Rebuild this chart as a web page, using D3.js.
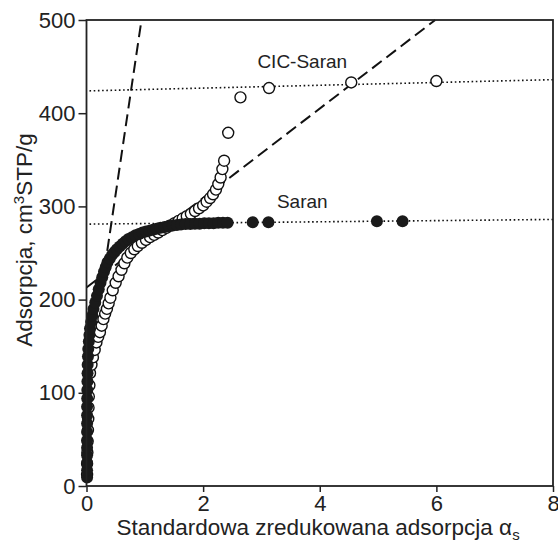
<!DOCTYPE html>
<html>

<head>
  <meta charset="utf8">
  <script src="https://d3js.org/d3.v7.min.js"></script>
  <style>
    body {
      margin: 0;
      background: #fff;
    }

    text {
      font-family: "Liberation Sans", Arial, sans-serif;
      fill: #222;
    }

    .tick text {
      font-size: 22px;
    }

    .title {
      font-size: 22.5px;
    }

    .label {
      font-size: 19px;
      text-anchor: middle;
    }
  </style>
</head>

<body>
  <svg id="chart" width="558" height="542"></svg>
  <script>
    // Saran (filled markers)
    var saranX = [0.01, 0.01, 0.01, 0.01, 0.01, 0.01, 0.01, 0.01, 0.01, 0.01,
      0.012, 0.014, 0.016, 0.018, 0.02, 0.025, 0.03, 0.04, 0.05, 0.06,
      0.08, 0.1, 0.12, 0.15, 0.18, 0.21, 0.24, 0.27, 0.3, 0.33,
      0.36, 0.4, 0.44, 0.48, 0.52, 0.57, 0.62, 0.67, 0.72, 0.78,
      0.84, 0.9, 0.96, 1.02, 1.08, 1.14, 1.2, 1.27, 1.34, 1.41,
      1.48, 1.55, 1.62, 1.7, 1.78, 1.86, 1.94, 2.02, 2.1, 2.18,
      2.26, 2.34, 2.42, 2.85, 3.12, 4.98, 5.42];
    var saranY = [9, 17, 25, 33, 41, 49, 58, 67, 76, 85,
      94, 103, 112, 121, 130, 139, 147, 155, 162, 169,
      176, 183, 190, 197, 204, 211, 218, 224, 230, 235,
      240, 244, 248, 251, 254, 257, 260, 262.5, 265, 267,
      269, 270.5, 272, 273, 274, 275, 276, 277, 278, 279,
      279.5, 280, 280.5, 281, 281, 281.5, 281.5, 282, 282, 282,
      282.5, 282.5, 282.5, 283, 283, 284, 284];

    // CIC-Saran (open markers)
    var cicX = [0.01, 0.01, 0.015, 0.02, 0.025, 0.03, 0.035, 0.04, 0.05, 0.06,
      0.085, 0.11, 0.14, 0.17, 0.2, 0.23, 0.26, 0.29, 0.32, 0.35,
      0.38, 0.41, 0.45, 0.5, 0.55, 0.6, 0.65, 0.7, 0.76, 0.82,
      0.88, 0.95, 1.02, 1.09, 1.16, 1.23, 1.3, 1.37, 1.44, 1.51,
      1.58, 1.65, 1.72, 1.79, 1.86, 1.93,
      2.0, 2.06, 2.12, 2.17, 2.22, 2.26, 2.3, 2.33, 2.36, 2.43, 2.64, 3.13, 4.54, 6.0];
    var cicY = [12, 24, 36, 48, 60, 72, 84, 96, 108, 121,
      130, 138, 146, 154, 160, 165, 172, 179, 185, 190,
      196, 202, 210, 218, 225, 232, 239, 245, 250, 254,
      257.5, 261, 264, 267, 269.5, 272, 274.5, 277, 279.5, 282,
      284.5, 287, 289.5, 292, 295, 298,
      301, 305, 309, 313, 318, 324, 331, 340, 349, 379, 417, 427, 433, 434.5];

    // fitted lines [x0, y0, x1, y1]
    var dottedLines = [[0, 424, 8, 436], [0, 281, 8, 286]];
    var dashedLines = [[0.22, 195, 0.943, 500], [0, 213, 5.98, 500]];

    var xTicks = [0, 2, 4, 6, 8];
    var yTicks = [0, 100, 200, 300, 400, 500];

    var chart = d3.select('#chart');
    var mLeft = 86.5, mRight = 553, mTop = 20, mBottom = 486;

    var x = d3.scaleLinear().domain([0, 8]).range([mLeft, mRight]);
    var y = d3.scaleLinear().domain([0, 500]).range([mBottom, mTop]);

    var saran = saranX.map((d, i) => [d, saranY[i]]);
    var cic = cicX.map((d, i) => [d, cicY[i]]);

    chart.append('g')
      .attr('transform', 'translate(0,' + mBottom + ')')
      .call(d3.axisBottom(x).tickValues(xTicks).tickSize(6).tickPadding(3).tickFormat(d3.format('d')))
      .call((g) => g.select('.domain').remove())
      .call((g) => g.selectAll('.tick line').attr('stroke', '#222').attr('stroke-width', 1.5))
      .call((g) => g.selectAll('.tick text').attr('fill', '#222'));

    chart.append('g')
      .attr('transform', 'translate(' + mLeft + ',0)')
      .call(d3.axisLeft(y).tickValues(yTicks).tickSize(8).tickPadding(3))
      .call((g) => g.select('.domain').remove())
      .call((g) => g.selectAll('.tick line').attr('stroke', '#222').attr('stroke-width', 1.5))
      .call((g) => g.selectAll('.tick text').attr('fill', '#222'));

    var lines = chart.append('g');

    lines.selectAll('.dotted')
      .data(dottedLines)
      .enter()
      .append('line')
      .attr('x1', (d) => x(d[0]) + 3)
      .attr('y1', (d) => y(d[1]))
      .attr('x2', (d) => x(d[2]))
      .attr('y2', (d) => y(d[3]))
      .attr('stroke', '#111')
      .attr('stroke-width', 1.6)
      .attr('stroke-dasharray', '1.6,2.6');

    lines.selectAll('.dashed')
      .data(dashedLines)
      .enter()
      .append('line')
      .attr('x1', (d) => x(d[0]))
      .attr('y1', (d) => y(d[1]))
      .attr('x2', (d) => x(d[2]))
      .attr('y2', (d) => y(d[3]))
      .attr('stroke', '#111')
      .attr('stroke-width', 2)
      .attr('stroke-dasharray', '12,6');

    chart.append('g')
      .selectAll('circle')
      .data(cic)
      .enter()
      .append('circle')
      .attr('cx', (d) => x(d[0]))
      .attr('cy', (d) => y(d[1]))
      .attr('r', 5.5)
      .attr('fill', '#fff')
      .attr('stroke', '#111')
      .attr('stroke-width', 1.4);

    chart.append('g')
      .selectAll('circle')
      .data(saran)
      .enter()
      .append('circle')
      .attr('cx', (d) => x(d[0]))
      .attr('cy', (d) => y(d[1]))
      .attr('r', 6)
      .attr('fill', '#1a1a1a');

    // frame
    chart.append('rect')
      .attr('x', mLeft)
      .attr('y', mTop)
      .attr('width', mRight - mLeft)
      .attr('height', mBottom - mTop)
      .attr('fill', 'none')
      .attr('stroke', '#222')
      .attr('stroke-width', 1.8);

    chart.append('text')
      .attr('class', 'label')
      .attr('x', x(3.7))
      .attr('y', 68)
      .text('CIC-Saran');

    chart.append('text')
      .attr('class', 'label')
      .attr('x', x(3.7))
      .attr('y', 208)
      .text('Saran');

    var yTitle = chart.append('text')
      .attr('class', 'title')
      .attr('text-anchor', 'middle')
      .attr('transform', 'translate(32,240) rotate(-90)');
    yTitle.append('tspan').text('Adsorpcja, cm');
    yTitle.append('tspan').attr('font-size', '15px').attr('dy', -8).text('3');
    yTitle.append('tspan').attr('dy', 8).text('STP/g');

    var xTitle = chart.append('text')
      .attr('class', 'title')
      .attr('text-anchor', 'middle')
      .attr('x', 318)
      .attr('y', 535);
    xTitle.append('tspan').text('Standardowa zredukowana adsorpcja \u03b1');
    xTitle.append('tspan').attr('font-size', '15px').attr('dy', 5).text('s');
  </script>
</body>

</html>
